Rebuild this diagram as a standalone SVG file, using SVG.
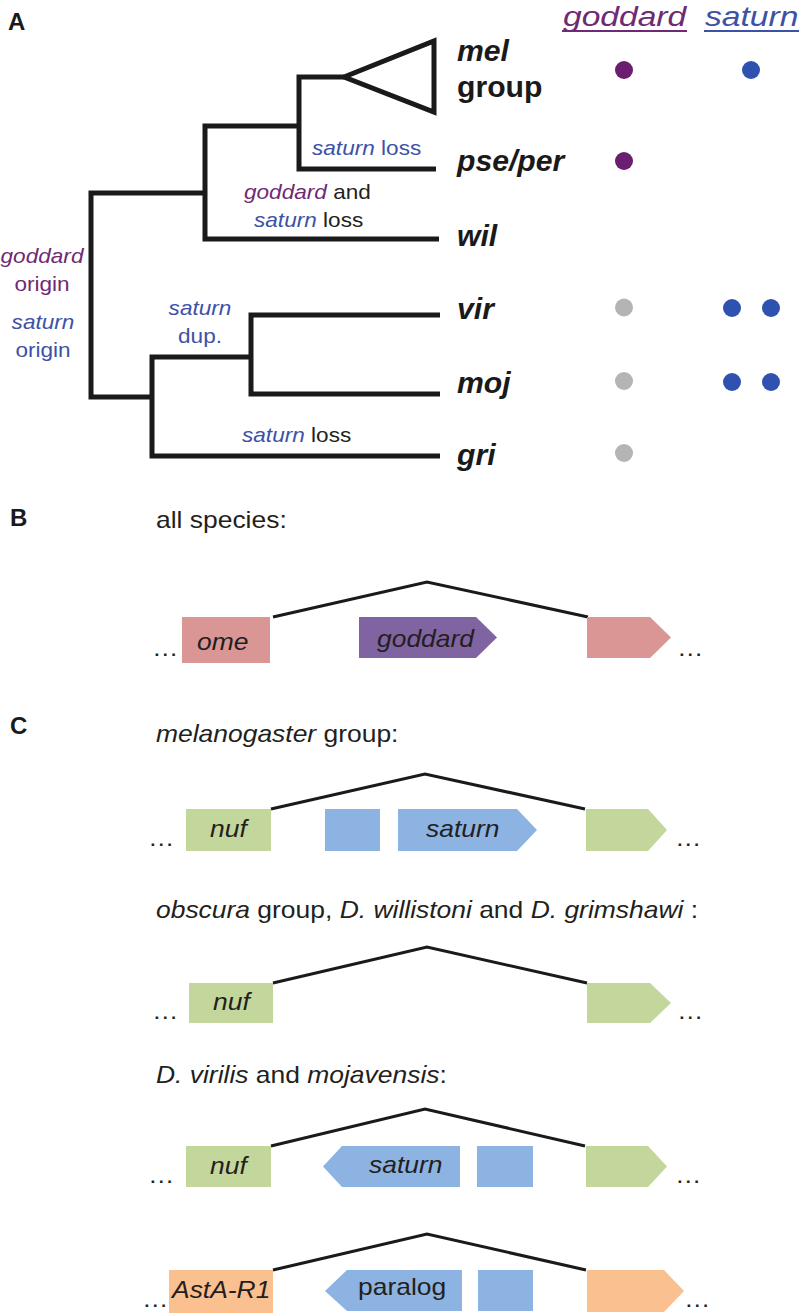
<svg xmlns="http://www.w3.org/2000/svg" width="799" height="1313" viewBox="0 0 799 1313">
<style>
.t{font-family:"Liberation Sans",Arial,Helvetica,sans-serif}
.br{fill:none;stroke:#1a1a1a;stroke-width:5;stroke-linejoin:miter;stroke-linecap:butt}
.intron{fill:none;stroke:#1a1a1a;stroke-width:3}
.pl{font-size:24px;font-weight:bold;fill:#1a1a1a}
.lab{font-size:20px}
.sp{font-size:29px;font-weight:bold;fill:#1a1a1a}
.g{font-size:23px;fill:#231f20}
.hd{font-size:28px;font-style:italic}
.i{font-style:italic}
.pu{fill:#6e2a74}
.bl{fill:#3d52a6}
.dk{fill:#231f20}
.pink{fill:#d99694}
.purp{fill:#8064a2}
.green{fill:#c3d69b}
.blue{fill:#8db3e2}
.orange{fill:#fac090}
</style>
<rect width="799" height="1313" fill="#ffffff"/>

<!-- Panel letters -->
<text class="t pl" x="8" y="30">A</text>
<text class="t pl" x="10" y="526">B</text>
<text class="t pl" x="10" y="734">C</text>

<!-- Tree branches and intron connectors -->
<g id="connectors">
  <path class="br" d="M344,77 H299 V169 H436"/>
  <path class="br" d="M299,126 H205 V239 H439"/>
  <path class="br" d="M205,193 H91 V397 H152"/>
  <path class="br" d="M251,357 H152 V456 H440"/>
  <path class="br" d="M440,315 H251 V394 H440"/>
  <path class="intron" d="M273,617 L427,582 L588,617"/>
  <path class="intron" d="M271,809 L425,774 L585,809"/>
  <path class="intron" d="M273,983 L427,947 L587,983"/>
  <path class="intron" d="M271,1146 L425,1109 L585,1146"/>
  <path class="intron" d="M273,1270 L427,1234 L586,1270"/>
</g>

<!-- mel group clade triangle -->
<g id="mel-clade">
  <polygon class="br" points="344,77 434,41 434,112"/>
</g>

<!-- Tree event labels -->
<g id="event-labels" class="t lab">
  <text transform="translate(312,155) scale(1.13,1)" class="bl"><tspan class="i">saturn</tspan> loss</text>
  <text transform="translate(244,199) scale(1.13,1)"><tspan class="i pu">goddard</tspan><tspan class="dk"> and</tspan></text>
  <text transform="translate(254,227) scale(1.13,1)"><tspan class="i bl">saturn</tspan><tspan class="dk"> loss</tspan></text>
  <text transform="translate(42,263) scale(1.13,1)" text-anchor="middle" class="i pu">goddard</text>
  <text transform="translate(42,291) scale(1.13,1)" text-anchor="middle" class="pu">origin</text>
  <text transform="translate(43,329) scale(1.13,1)" text-anchor="middle" class="i bl">saturn</text>
  <text transform="translate(43,357) scale(1.13,1)" text-anchor="middle" class="bl">origin</text>
  <text transform="translate(200,315) scale(1.13,1)" text-anchor="middle" class="i bl">saturn</text>
  <text transform="translate(200,343) scale(1.13,1)" text-anchor="middle" class="bl">dup.</text>
  <text transform="translate(242,442) scale(1.13,1)"><tspan class="i bl">saturn</tspan><tspan class="dk"> loss</tspan></text>
</g>

<!-- Column headers -->
<g id="headers" class="t">
  <text class="hd pu" transform="translate(563,26) scale(1.2,1)">goddard</text>
  <line x1="562" y1="31" x2="687" y2="31" stroke="#6e2a74" stroke-width="2"/>
  <text class="hd bl" transform="translate(705,26) scale(1.2,1)">saturn</text>
  <line x1="704" y1="31" x2="799" y2="31" stroke="#3d52a6" stroke-width="2"/>
</g>

<!-- Species -->
<g id="sp-mel" class="t sp">
  <text transform="translate(457,61) scale(1.04,1)" class="i">mel</text>
  <text transform="translate(457,97) scale(1.04,1)">group</text>
  <circle cx="624" cy="70" r="9" fill="#6b1d6f"/>
  <circle cx="751" cy="70" r="9" fill="#2f52b0"/>
</g>
<g id="sp-pse" class="t sp">
  <text transform="translate(457,171) scale(1.04,1)" class="i">pse/per</text>
  <circle cx="624" cy="161" r="9" fill="#6b1d6f"/>
</g>
<g id="sp-wil" class="t sp">
  <text transform="translate(457,246) scale(1.04,1)" class="i">wil</text>
</g>
<g id="sp-vir" class="t sp">
  <text transform="translate(457,319) scale(1.04,1)" class="i">vir</text>
  <circle cx="624" cy="307.5" r="9" fill="#b4b4b6"/>
  <circle cx="732" cy="308" r="9" fill="#2f52b0"/>
  <circle cx="771" cy="308" r="9" fill="#2f52b0"/>
</g>
<g id="sp-moj" class="t sp">
  <text transform="translate(457,393) scale(1.04,1)" class="i">moj</text>
  <circle cx="624" cy="381" r="9" fill="#b4b4b6"/>
  <circle cx="732" cy="382" r="9" fill="#2f52b0"/>
  <circle cx="771" cy="382" r="9" fill="#2f52b0"/>
</g>
<g id="sp-gri" class="t sp">
  <text transform="translate(457,465) scale(1.04,1)" class="i">gri</text>
  <circle cx="624" cy="453" r="9" fill="#b4b4b6"/>
</g>

<!-- Panel B -->
<g id="row-B" class="t g">
  <text transform="translate(156,528) scale(1.15,1)">all species:</text>
  <text transform="translate(152,655.5) scale(1.15,1)">…</text>
  <g id="gene-ome">
    <rect class="pink" x="182" y="617" width="88" height="46"/>
    <text class="i" transform="translate(197,650) scale(1.15,1)">ome</text>
  </g>
  <g id="gene-goddard">
    <polygon class="purp" points="359,617 476,617 497,637.5 476,658 359,658"/>
    <text class="i" transform="translate(377,647) scale(1.15,1)">goddard</text>
  </g>
  <g id="gene-B-right">
    <polygon class="pink" points="587,617 650,617 671,637.5 650,658 587,658"/>
  </g>
  <text transform="translate(677,655.5) scale(1.15,1)">…</text>
</g>

<!-- Panel C row 1 -->
<g id="row-C1" class="t g">
  <text transform="translate(156,742) scale(1.15,1)"><tspan class="i">melanogaster</tspan> group:</text>
  <text transform="translate(148,846) scale(1.15,1)">…</text>
  <g id="gene-nuf-1">
    <rect class="green" x="186" y="809" width="85" height="42"/>
    <text class="i" transform="translate(210,837) scale(1.15,1)">nuf</text>
  </g>
  <rect id="exon-1" class="blue" x="325" y="809" width="55" height="42"/>
  <g id="gene-saturn-1">
    <polygon class="blue" points="398,809 517,809 537,830 517,851 398,851"/>
    <text class="i" transform="translate(426,837) scale(1.15,1)">saturn</text>
  </g>
  <polygon id="gene-C1-right" class="green" points="586,809 648,809 667,830 648,851 586,851"/>
  <text transform="translate(675,846) scale(1.15,1)">…</text>
</g>

<!-- Panel C row 2 -->
<g id="row-C2" class="t g">
  <text transform="translate(156,918) scale(1.15,1)"><tspan class="i">obscura</tspan> group, <tspan class="i">D. willistoni</tspan> and <tspan class="i">D. grimshawi</tspan> :</text>
  <text transform="translate(152,1019) scale(1.15,1)">…</text>
  <g id="gene-nuf-2">
    <rect class="green" x="189" y="983" width="84" height="40"/>
    <text class="i" transform="translate(213,1010) scale(1.15,1)">nuf</text>
  </g>
  <polygon id="gene-C2-right" class="green" points="587,983 650,983 671,1003 650,1023 587,1023"/>
  <text transform="translate(677,1019) scale(1.15,1)">…</text>
</g>

<!-- Panel C row 3 -->
<g id="row-C3" class="t g">
  <text transform="translate(156,1083) scale(1.15,1)"><tspan class="i">D. virilis</tspan> and <tspan class="i">mojavensis</tspan>:</text>
  <text transform="translate(148,1183) scale(1.15,1)">…</text>
  <g id="gene-nuf-3">
    <rect class="green" x="186" y="1146" width="85" height="41"/>
    <text class="i" transform="translate(210,1174) scale(1.15,1)">nuf</text>
  </g>
  <g id="gene-saturn-3">
    <polygon class="blue" points="323,1166.5 342,1146 460,1146 460,1187 342,1187"/>
    <text class="i" transform="translate(369,1173) scale(1.15,1)">saturn</text>
  </g>
  <rect id="exon-3" class="blue" x="477" y="1146" width="56" height="41"/>
  <polygon id="gene-C3-right" class="green" points="586,1146 648,1146 667,1166.5 648,1187 586,1187"/>
  <text transform="translate(675,1183) scale(1.15,1)">…</text>
</g>

<!-- Panel C row 4 -->
<g id="row-C4" class="t g">
  <text transform="translate(142,1307) scale(1.15,1)">…</text>
  <g id="gene-AstA-R1">
    <rect class="orange" x="169" y="1270" width="104" height="45"/>
    <text class="i" transform="translate(172,1298) scale(1.15,1)">AstA-R1</text>
  </g>
  <g id="gene-paralog">
    <polygon class="blue" points="325,1291 347,1270 462,1270 462,1311 347,1311"/>
    <text transform="translate(358,1295) scale(1.15,1)">paralog</text>
  </g>
  <rect id="exon-4" class="blue" x="478" y="1270" width="55" height="41"/>
  <polygon id="gene-C4-right" class="orange" points="587,1270 664,1270 684,1291 664,1312 587,1312"/>
  <text transform="translate(684,1307) scale(1.15,1)">…</text>
</g>
</svg>
